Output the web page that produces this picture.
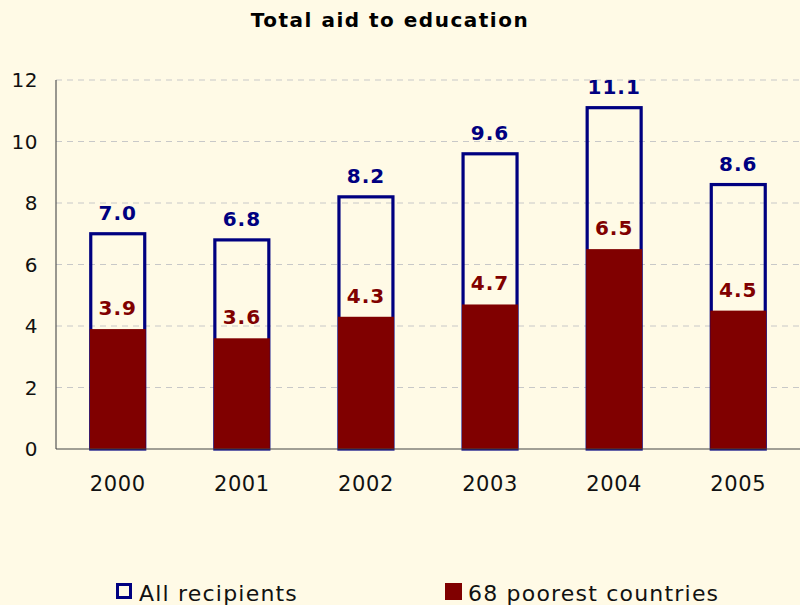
<!DOCTYPE html>
<html>
<head>
<meta charset="utf-8">
<script src="https://cdn.jsdelivr.net/npm/d3@7"></script>
<style>
  html, body { margin: 0; padding: 0; background: #fffae6; }
  svg { display: block; font-family: "DejaVu Sans", Verdana, sans-serif; }
</style>
</head>
<body>
<div id="chart"></div>
<script>
const years = ["2000", "2001", "2002", "2003", "2004", "2005"];
const allRecipients = [7.0, 6.8, 8.2, 9.6, 11.1, 8.6];
const poorest = [3.9, 3.6, 4.3, 4.7, 6.5, 4.5];
const yTicks = [0, 2, 4, 6, 8, 10, 12];

const width = 800,
  height = 605;
const margin = { top: 80, right: 0, bottom: 156, left: 56 };

const svg = d3
  .select("#chart")
  .append("svg")
  .attr("width", width)
  .attr("height", height);

svg
  .append("rect")
  .attr("width", width)
  .attr("height", height)
  .attr("fill", "#fffae6");

const x = d3
  .scaleBand()
  .domain(years)
  .range([margin.left, width - margin.right])
  .paddingInner(0.565)
  .paddingOuter(0.28);

const y = d3
  .scaleLinear()
  .domain([0, 12])
  .range([height - margin.bottom, margin.top]);

// grid
svg
  .append("g")
  .selectAll("line")
  .data(yTicks.filter((d) => d > 0))
  .join("line")
  .attr("x1", margin.left)
  .attr("x2", width)
  .attr("y1", (d) => y(d))
  .attr("y2", (d) => y(d))
  .attr("stroke", "#c8c8c8")
  .attr("stroke-dasharray", "6,5");

// y axis labels
svg
  .append("g")
  .selectAll("text")
  .data(yTicks)
  .join("text")
  .attr("x", 38)
  .attr("y", (d) => y(d))
  .attr("dy", "0.36em")
  .attr("text-anchor", "end")
  .attr("font-size", "20px")
  .attr("letter-spacing", "0.5px")
  .attr("fill", "#111")
  .text((d) => d);

const data = years.map((yr, i) => ({
  year: yr,
  all: allRecipients[i],
  poor: poorest[i],
}));

// outline bars for all recipients
svg
  .append("g")
  .selectAll("rect")
  .data(data)
  .join("rect")
  .attr("x", (d) => x(d.year))
  .attr("y", (d) => y(d.all))
  .attr("width", x.bandwidth())
  .attr("height", (d) => y(0) - y(d.all))
  .attr("fill", "none")
  .attr("stroke", "#000080")
  .attr("stroke-width", 3.2);

// filled bars for 68 poorest
svg
  .append("g")
  .selectAll("rect")
  .data(data)
  .join("rect")
  .attr("x", (d) => x(d.year) - 1)
  .attr("y", (d) => y(d.poor))
  .attr("width", x.bandwidth() + 2)
  .attr("height", (d) => y(0) - y(d.poor))
  .attr("fill", "#800000");

// value labels
svg
  .append("g")
  .selectAll("text")
  .data(data)
  .join("text")
  .attr("x", (d) => x(d.year) + x.bandwidth() / 2)
  .attr("y", (d) => y(d.all) - 14)
  .attr("text-anchor", "middle")
  .attr("font-size", "20px")
  .attr("font-weight", "bold")
  .attr("letter-spacing", "1px")
  .attr("fill", "#000080")
  .text((d) => d.all.toFixed(1));

svg
  .append("g")
  .selectAll("text")
  .data(data)
  .join("text")
  .attr("x", (d) => x(d.year) + x.bandwidth() / 2)
  .attr("y", (d) => y(d.poor) - 14)
  .attr("text-anchor", "middle")
  .attr("font-size", "20px")
  .attr("font-weight", "bold")
  .attr("letter-spacing", "1px")
  .attr("fill", "#800000")
  .text((d) => d.poor.toFixed(1));

// axes lines
svg
  .append("line")
  .attr("x1", margin.left)
  .attr("x2", margin.left)
  .attr("y1", y(12))
  .attr("y2", y(0))
  .attr("stroke", "#555")
  .attr("stroke-width", 1.2);

svg
  .append("line")
  .attr("x1", margin.left)
  .attr("x2", width)
  .attr("y1", y(0))
  .attr("y2", y(0))
  .attr("stroke", "#444")
  .attr("stroke-width", 1.2);

// x labels
svg
  .append("g")
  .selectAll("text")
  .data(years)
  .join("text")
  .attr("x", (d) => x(d) + x.bandwidth() / 2)
  .attr("y", 491)
  .attr("text-anchor", "middle")
  .attr("font-size", "21px")
  .attr("letter-spacing", "0.6px")
  .attr("fill", "#111")
  .text((d) => d);

// title
svg
  .append("text")
  .attr("x", 390)
  .attr("y", 27)
  .attr("text-anchor", "middle")
  .attr("font-size", "20px")
  .attr("font-weight", "bold")
  .attr("letter-spacing", "1.5px")
  .attr("fill", "#000")
  .text("Total aid to education");

// legend
const legend = [
  { label: "All recipients", x: 116, outline: true },
  { label: "68 poorest countries", x: 445, outline: false },
];
legend.forEach((d) => {
  svg
    .append("rect")
    .attr("x", d.outline ? d.x + 1.5 : d.x)
    .attr("y", d.outline ? 584.5 : 583)
    .attr("width", d.outline ? 13 : 17)
    .attr("height", d.outline ? 13 : 17)
    .attr("fill", d.outline ? "none" : "#800000")
    .attr("stroke", d.outline ? "#000080" : "none")
    .attr("stroke-width", 3);
  svg
    .append("text")
    .attr("x", d.x + 23)
    .attr("y", 601)
    .attr("font-size", "22px")
    .attr("letter-spacing", "1.2px")
    .attr("fill", "#111")
    .text(d.label);
});
</script>
</body>
</html>
